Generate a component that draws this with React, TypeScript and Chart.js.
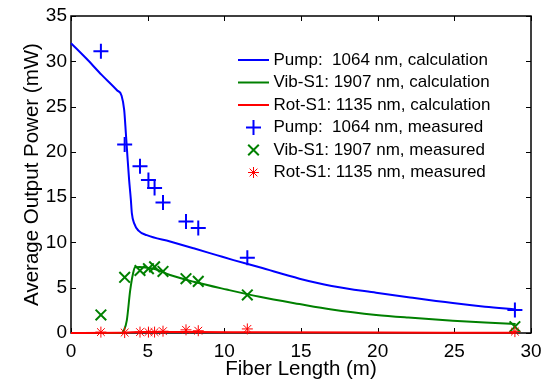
import React, { useEffect, useRef } from "react";
import { Chart, registerables } from "chart.js";

Chart.register(...registerables);

const FONT = '"Liberation Sans", Arial, Helvetica, sans-serif';

const xTitle = "Fiber Length (m)";
const yTitle = "Average Output Power (mW)";

// Calculated curves
const pumpCalcX = [0, 1, 2, 3, 3.3, 3.47, 3.58, 3.68, 3.79, 3.9, 3.97, 4.12, 4.4, 4.94, 6.46, 8.0, 9.5, 10.6, 12.3, 14.9, 17, 19.9, 22, 24.9, 27, 29];
const pumpCalcY = [32.0, 30.3, 28.5, 26.8, 26.2, 24.6, 22.0, 19.5, 16.9, 14.8, 13.2, 12.1, 11.3, 10.8, 10.1, 9.35, 8.6, 8.05, 7.25, 6.0, 5.2, 4.45, 3.95, 3.3, 2.9, 2.6];

const vibCalcX = [0, 3.3, 3.45, 3.64, 3.86, 4.05, 4.18, 4.5, 4.73, 5.4, 6.46, 8.0, 10.15, 12.3, 14.9, 17, 19.9, 22, 24.9, 27, 29];
const vibCalcY = [0, 0, 0.3, 1.4, 4.7, 6.6, 7.25, 7.3, 7.25, 7.1, 6.4, 5.66, 4.8, 4.0, 3.2, 2.6, 2.0, 1.7, 1.36, 1.15, 1.0];

const rotCalcX = [0, 3.3, 4, 5, 8, 12, 20, 29];
const rotCalcY = [0, 0.02, 0.08, 0.1, 0.1, 0.08, 0.05, 0.03];

// Measured points
const measX = [1.95, 3.5, 4.5, 5.05, 5.45, 6.0, 7.5, 8.3, 11.5, 28.95];
const pumpMeas = [31.1, 20.8, 18.4, 16.9, 16.0, 14.4, 12.3, 11.6, 8.3, 2.55];
const vibMeas = [2.0, 6.15, 6.9, 7.1, 7.3, 6.8, 6.0, 5.7, 4.2, 0.7];
const rotMeas = [0.1, 0.05, 0.1, 0.1, 0.1, 0.2, 0.35, 0.25, 0.45, 0.15];

const labels = [
  "Pump:  1064 nm, calculation",
  "Vib-S1: 1907 nm, calculation",
  "Rot-S1: 1135 nm, calculation",
  "Pump:  1064 nm, measured",
  "Vib-S1: 1907 nm, measured",
  "Rot-S1: 1135 nm, measured",
];

const BLUE = "#0000ff";
const GREEN = "#008000";
const RED = "#ff0000";

const pts = (xs: number[], ys: number[]) => xs.map((x, i) => ({ x, y: ys[i] }));

function drawMarker(ctx: CanvasRenderingContext2D, style: string, x: number, y: number, r: number) {
  ctx.beginPath();
  if (style === "cross" || style === "star") {
    ctx.moveTo(x - r, y);
    ctx.lineTo(x + r, y);
    ctx.moveTo(x, y - r);
    ctx.lineTo(x, y + r);
  }
  if (style === "crossRot" || style === "star") {
    const d = r * Math.SQRT1_2;
    ctx.moveTo(x - d, y - d);
    ctx.lineTo(x + d, y + d);
    ctx.moveTo(x - d, y + d);
    ctx.lineTo(x + d, y - d);
  }
  ctx.stroke();
}

const framePlugin = {
  id: "matlabFrame",
  beforeDatasetsDraw(chart: any) {
    const { ctx, chartArea } = chart;
    const { left, right, top, bottom } = chartArea;
    const xs = chart.scales.x;
    const ys = chart.scales.y;
    ctx.save();
    ctx.strokeStyle = "#000";
    ctx.lineWidth = 1;
    const tl = 5;
    ctx.beginPath();
    xs.ticks.forEach((t: any) => {
      const p = Math.round(xs.getPixelForValue(t.value)) + 0.5;
      ctx.moveTo(p, bottom);
      ctx.lineTo(p, bottom - tl);
      ctx.moveTo(p, top);
      ctx.lineTo(p, top + tl);
    });
    ys.ticks.forEach((t: any) => {
      const p = Math.round(ys.getPixelForValue(t.value)) + 0.5;
      ctx.moveTo(left, p);
      ctx.lineTo(left + tl, p);
      ctx.moveTo(right, p);
      ctx.lineTo(right - tl, p);
    });
    ctx.stroke();
    ctx.lineWidth = 1.5;
    ctx.strokeRect(left, top, right - left, bottom - top);
    ctx.restore();
  },
  afterDraw(chart: any) {
    const { ctx } = chart;
    const rowTop = 60;
    const rowH = 22.5;
    const lineX0 = 238;
    const lineX1 = 269;
    const textX = 273.5;
    ctx.save();
    chart.data.datasets.forEach((ds: any, i: number) => {
      const y = rowTop + i * rowH;
      ctx.strokeStyle = ds.borderColor;
      if (ds.showLine) {
        ctx.lineWidth = ds.borderWidth;
        ctx.beginPath();
        ctx.moveTo(lineX0, y);
        ctx.lineTo(lineX1, y);
        ctx.stroke();
      } else {
        ctx.lineWidth = ds.pointBorderWidth;
        drawMarker(ctx, ds.pointStyle, (lineX0 + lineX1) / 2, y, ds.pointRadius);
      }
      ctx.fillStyle = "#000";
      ctx.font = `17px ${FONT}`;
      ctx.textAlign = "left";
      ctx.textBaseline = "middle";
      ctx.fillText(ds.label, textX, y);
    });
    ctx.restore();
  },
};

export default function App() {
  const ref = useRef<HTMLCanvasElement>(null);
  useEffect(() => {
    if (!ref.current) return;
    const lineDs = (label: string, xs: number[], ys: number[], color: string, order: number) => ({
      label,
      data: pts(xs, ys),
      showLine: true,
      borderColor: color,
      backgroundColor: color,
      borderWidth: 2,
      pointRadius: 0,
      cubicInterpolationMode: "monotone",
      clip: false,
      order,
    });
    const markDs = (label: string, ys: number[], color: string, style: string, r: number, w: number, order: number) => ({
      label,
      data: pts(measX, ys),
      showLine: false,
      borderColor: color,
      backgroundColor: color,
      pointStyle: style,
      pointRadius: r,
      pointBorderWidth: w,
      pointBorderColor: color,
      clip: false,
      order,
    });
    const chart = new Chart(ref.current, {
      type: "scatter",
      data: {
        datasets: [
          lineDs(labels[0], pumpCalcX, pumpCalcY, BLUE, 5),
          lineDs(labels[1], vibCalcX, vibCalcY, GREEN, 4),
          lineDs(labels[2], rotCalcX, rotCalcY, RED, 3),
          markDs(labels[3], pumpMeas, BLUE, "cross", 7.5, 2, 2),
          markDs(labels[4], vibMeas, GREEN, "crossRot", 7.5, 2, 1),
          markDs(labels[5], rotMeas, RED, "star", 5.5, 1, 0),
        ] as any,
      },
      options: {
        responsive: false,
        animation: false,
        events: [],
        layout: { padding: { top: 16, right: 21, left: 0, bottom: 0 } },
        plugins: {
          legend: { display: false },
          tooltip: { enabled: false },
        },
        scales: {
          x: {
            type: "linear",
            min: 0,
            max: 30,
            ticks: { stepSize: 5, color: "#000", font: { family: FONT, size: 19 }, padding: 7, maxRotation: 0 },
            grid: { display: false, drawTicks: false },
            border: { display: false },
            title: { display: true, text: xTitle, color: "#000", font: { family: FONT, size: 20.5 }, padding: { top: 0, bottom: 3 } },
            afterFit: (s: any) => { s.height = 52; },
          },
          y: {
            type: "linear",
            min: 0,
            max: 35,
            ticks: { stepSize: 5, color: "#000", font: { family: FONT, size: 19 }, padding: 4 },
            grid: { display: false, drawTicks: false },
            border: { display: false },
            title: { display: true, text: yTitle, color: "#000", font: { family: FONT, size: 20.5 }, padding: { top: 20, bottom: 0 } },
            afterFit: (s: any) => { s.width = 71; },
          },
        },
      } as any,
      plugins: [framePlugin],
    });
    return () => chart.destroy();
  }, []);
  return (
    <div style={{ position: "fixed", left: 0, top: 0, width: 552, height: 385, background: "#fff" }}>
      <canvas ref={ref} width={552} height={385} style={{ display: "block" }} />
    </div>
  );
}
